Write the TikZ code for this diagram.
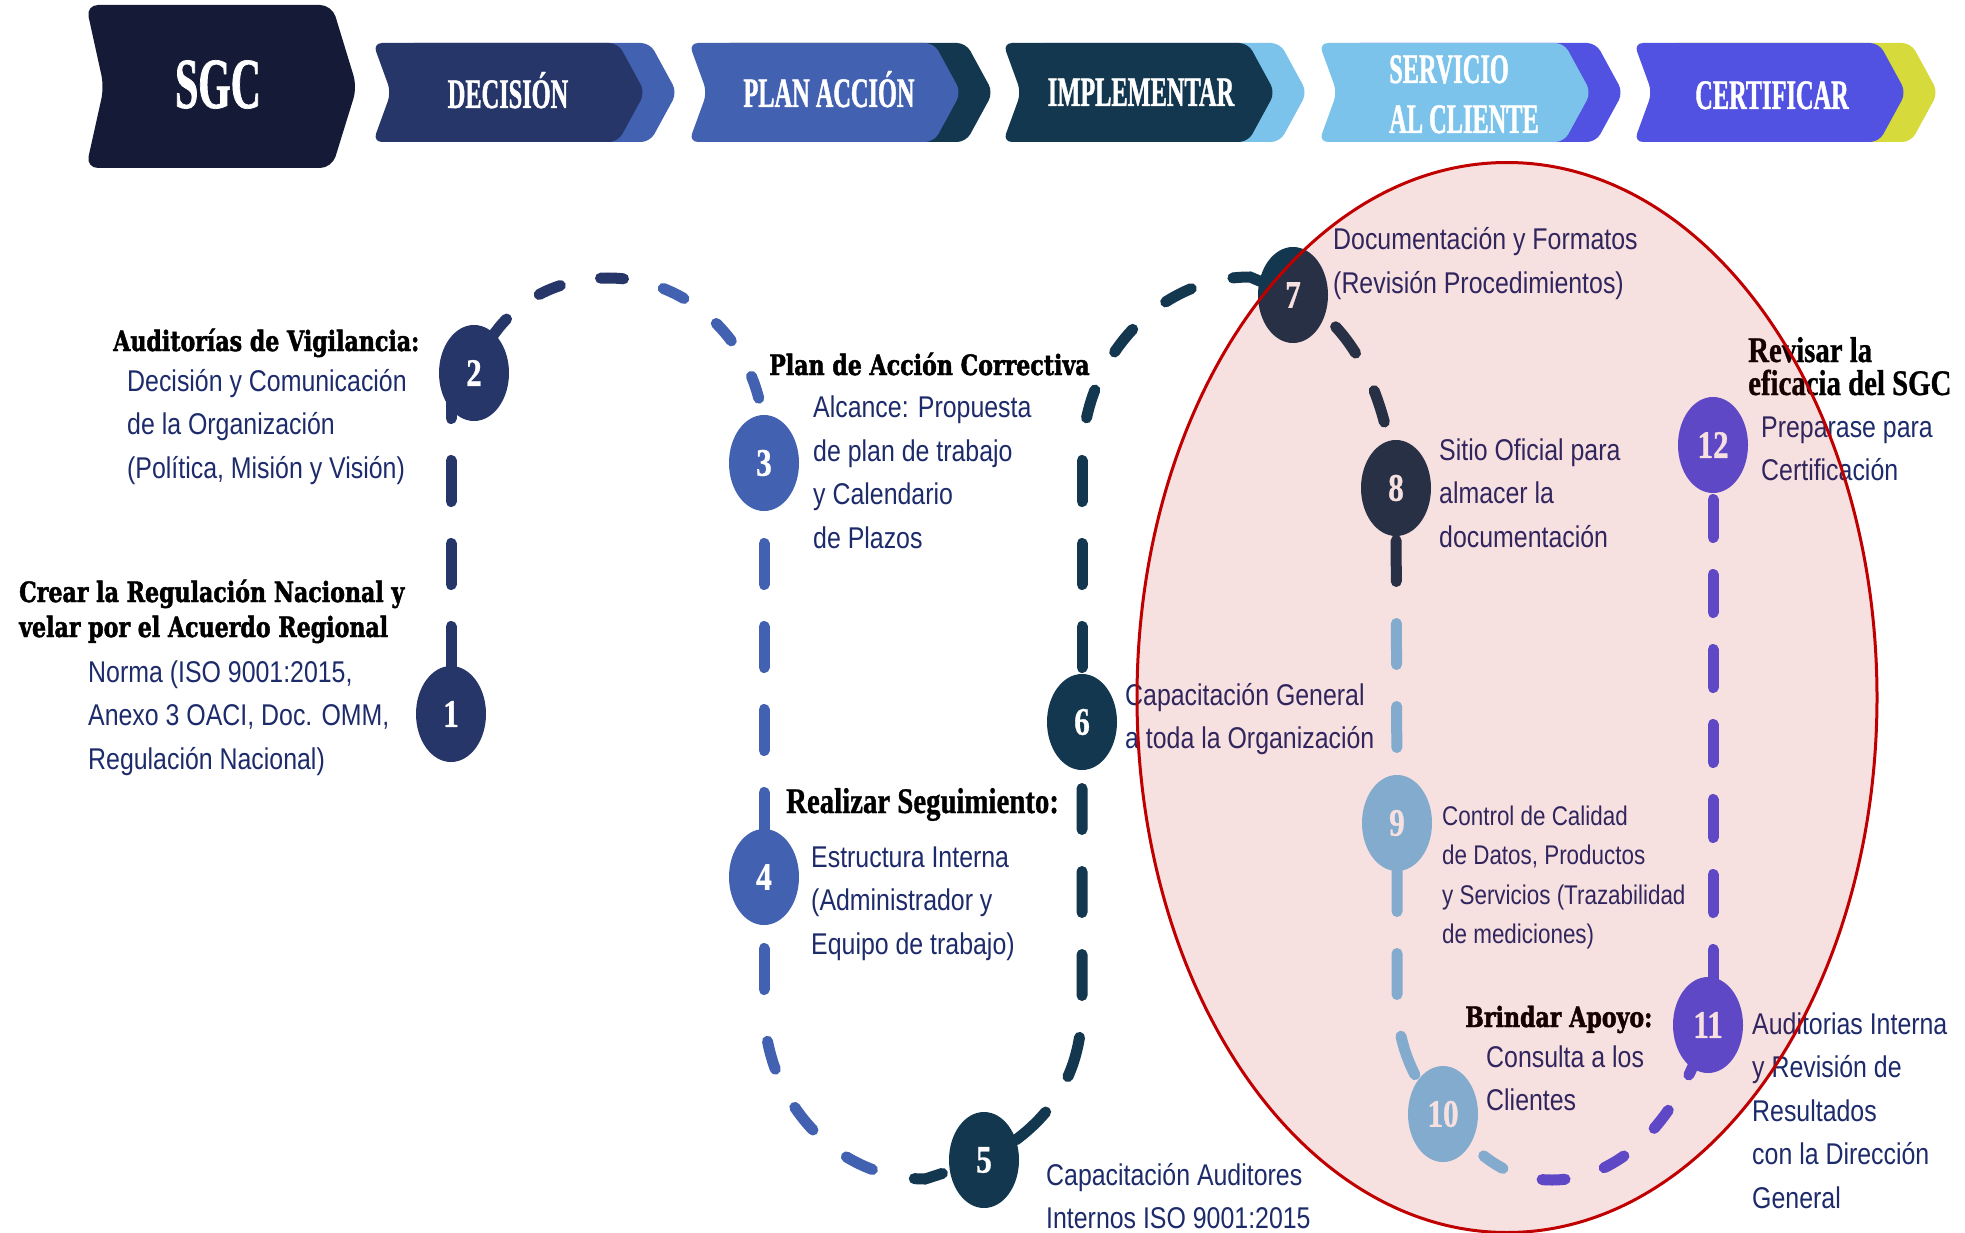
\documentclass[tikz,border=0pt]{standalone}
\usepackage{fontspec}
\setmainfont{Liberation Sans}
\newfontfamily\bodyf[FakeStretch=0.83]{Liberation Sans}
\newfontfamily\heavyf[FakeStretch=0.79,FakeBold=1.6]{DejaVu Serif Bold}
\newfontfamily\condf[FakeStretch=0.8,FakeBold=0.8]{Liberation Serif Bold}
\newfontfamily\headf[FakeStretch=0.58,FakeBold=1]{Liberation Serif Bold}
\newfontfamily\numf[FakeStretch=0.8,FakeBold=0.8]{Liberation Serif Bold}
\usetikzlibrary{shapes.geometric}
\pgfdeclarelayer{back}
\pgfsetlayers{back,main}
\definecolor{cSGC}{HTML}{151B37}
\definecolor{cNavy}{HTML}{263669}
\definecolor{cBlue}{HTML}{4261B0}
\definecolor{cTeal}{HTML}{13374F}
\definecolor{cSky}{HTML}{7BC3EA}
\definecolor{cViolet}{HTML}{5252E2}
\definecolor{cLime}{HTML}{D6DA3A}
\definecolor{cText}{HTML}{1D2B6B}
\definecolor{cRed}{HTML}{C00000}
\definecolor{cOverlay}{RGB}{192,0,0}
\newcommand{\chevbox}[2]{\fill[#2, rounded corners=9pt] (#1,43) -- ++(245,0) -- ++(27,49.5) -- ++(-27,49.5) -- ++(-245,0) -- ++(18,-49.5) -- cycle;}
\tikzset{
  num/.style={ellipse, minimum width=70pt, minimum height=96pt, inner sep=0pt, text=white, font=\numf\fontsize{39}{39}\selectfont},
  conn/.style={line width=11pt, line cap=round},
  vdash/.style={dash pattern=on 41pt off 42pt},
  cdash/.style={dash pattern=on 29pt off 43pt},
  adash/.style={dash pattern=on 23pt off 41pt},
  body/.style={anchor=base west, align=left, inner sep=0pt, text=cText, font=\bodyf\fontsize{30}{43.5}\selectfont},
  heavy/.style={anchor=base west, align=left, inner sep=0pt, text=black, font=\heavyf\fontsize{28}{35}\selectfont},
  cond/.style={anchor=base west, align=left, inner sep=0pt, text=black, font=\condf\fontsize{36}{33}\selectfont},
  headtxt/.style={anchor=base, inner sep=0pt, text=white, font=\headf\fontsize{42}{50}\selectfont}
}
\begin{document}
\begin{tikzpicture}[x=1pt, y=-1pt]
\useasboundingbox (0,0) rectangle (1965,1233);

% ---------- header chevrons ----------
\fill[cSGC, rounded corners=12pt] (86,5) -- (332,5) -- (357,87) -- (332,168) -- (86,168) -- (104,87) -- cycle;
\chevbox{405}{cBlue}
\chevbox{373}{cNavy}
\chevbox{721}{cTeal}
\chevbox{689}{cBlue}
\chevbox{1035}{cSky}
\chevbox{1003}{cTeal}
\chevbox{1351}{cViolet}
\chevbox{1319}{cSky}
\chevbox{1666}{cLime}
\chevbox{1634}{cViolet}

\node[headtxt, font=\headf\fontsize{72}{80}\selectfont] (hSGC) at (218,108) {SGC};
\node[headtxt] (hDec) at (508,108) {DECISIÓN};
\node[headtxt] (hPlan) at (829,107) {PLAN ACCIÓN};
\node[headtxt] (hImp) at (1141,106) {IMPLEMENTAR};
\node[headtxt, anchor=base west] (hServ) at (1389,83) {SERVICIO};
\node[headtxt, anchor=base west] (hCli) at (1389,133) {AL CLIENTE};
\node[headtxt] (hCert) at (1772,109) {CERTIFICAR};

% ---------- step circles ----------
\node[num, fill=cNavy] (n1) at (451,714) {1};
\node[num, fill=cNavy] (n2) at (474,373) {2};
\node[num, fill=cBlue] (n3) at (764,463) {3};
\node[num, fill=cBlue] (n4) at (764,877) {4};
\node[num, fill=cTeal] (n5) at (984,1160) {5};
\node[num, fill=cTeal] (n6) at (1082,722) {6};
\node[num, fill=cTeal] (n7) at (1293,295) {7};
\node[num, fill=cTeal] (n8) at (1396,488) {8};
\node[num, fill=cSky] (n9) at (1397,823) {9};
\node[num, fill=cSky] (n10) at (1443,1114) {10};
\node[num, fill=cViolet] (n11) at (1708,1025) {11};
\node[num, fill=cViolet] (n12) at (1713,445) {12};

% ---------- texts (anchor = baseline of the last line) ----------
\node[heavy] (t2h) at (113,351) {Auditorías de Vigilancia:};
\node[body] (t2) at (127,478) {Decisión y Comunicación\\de la Organización\\(Política, Misión y Visión)};
\node[heavy] (t1h) at (19,637) {Crear la Regulación Nacional y\\velar por el Acuerdo Regional};
\node[body] (t1) at (88,769) {Norma (ISO 9001:2015,\\Anexo 3 OACI, Doc. OMM,\\Regulación Nacional)};
\node[heavy] (t3h) at (769,375) {Plan de Acción Correctiva};
\node[body] (t3) at (813,548) {Alcance: Propuesta\\de plan de trabajo\\y Calendario\\de Plazos};
\node[cond] (t4h) at (786,813) {Realizar Seguimiento:};
\node[body] (t4) at (811,954) {Estructura Interna\\(Administrador y\\Equipo de trabajo)};
\node[body] (t5) at (1046,1228.5) {Capacitación Auditores\\Internos ISO 9001:2015};
\node[body] (t6) at (1125,748.5) {Capacitación General\\a toda la Organización};
\node[body] (t7) at (1333,293.5) {Documentación y Formatos\\(Revisión Procedimientos)};
\node[body] (t8) at (1439,547) {Sitio Oficial para\\almacer la\\documentación};
\node[body, font=\bodyf\fontsize{27}{39.5}\selectfont] (t9) at (1442,943.5) {Control de Calidad\\de Datos, Productos\\y Servicios (Trazabilidad\\de mediciones)};
\node[heavy] (t10h) at (1465,1027) {Brindar Apoyo:};
\node[body] (t10) at (1486,1110.5) {Consulta a los\\Clientes};
\node[body] (t11) at (1752,1208) {Auditorias Interna\\y Revisión de\\Resultados\\con la Dirección\\General};
\node[cond] (t12h) at (1748,395) {Revisar la\\eficacia del SGC};
\node[body] (t12) at (1761,480.5) {Preparase para\\Certificación};

% ---------- dashed connectors (behind circles) ----------
\begin{pgfonlayer}{back}
\fill[white] (0,0) rectangle (1965,1233);
% 1 -> 2
\draw[conn, cNavy, vdash, dash phase=36.5pt] (n1.center) -- (n1.center |- n2.center);
% 2 -> 3
\begin{scope}
\clip (0,0) rectangle (640,1233);
\draw[conn, cNavy, adash, dash phase=23.5pt] (n2.center) .. controls (500,300) and (560,278) .. (608,278) .. controls (694,278) and (764,350.6) .. (764,440) -- (n3.center);
\end{scope}
\begin{scope}
\clip (640,0) rectangle (1965,1233);
\draw[conn, cBlue, adash, dash phase=23.5pt] (n2.center) .. controls (500,300) and (560,278) .. (608,278) .. controls (694,278) and (764,350.6) .. (764,440) -- (n3.center);
\end{scope}
% 3 -> 4
\draw[conn, cBlue, vdash, dash phase=2.5pt] (n3.center) -- (n4.center);
% 4 -> 5
\coordinate (d45) at (764,1005);
\draw[conn, cBlue, vdash, dash phase=11.5pt] (n4.center) -- (d45);
\begin{scope}
\clip (0,0) rectangle (895,1233);
\draw[conn, cBlue, cdash, dash phase=35.5pt] (d45) .. controls (764,1101) and (836,1179) .. (925,1179) -- (n5.center);
\end{scope}
\begin{scope}
\clip (895,0) rectangle (1965,1233);
\draw[conn, cTeal, cdash, dash phase=35.5pt] (d45) .. controls (764,1101) and (836,1179) .. (925,1179) -- (n5.center);
\end{scope}
% 5 -> 6
\draw[conn, cTeal, vdash, dash phase=16.5pt] (n6.center) -- (1082,1005) .. controls (1082,1085) and (1040,1130) .. (n5.center);
% 6 -> 7
\coordinate (f67) at (1082,460);
\draw[conn, cTeal, vdash, dash phase=28.5pt] (n6.center) -- (f67);
\draw[conn, cTeal, cdash, dash phase=29.5pt] (f67) .. controls (1082,359) and (1158,277) .. (1250,277) -- (n7.center);
% 7 -> 8
\draw[conn, cTeal, dash pattern=on 33pt off 42pt, dash phase=21.5pt] (n7.center) .. controls (1345,320) and (1385,380) .. (n8.center);
% 8 -> 9
\begin{scope}
\clip (0,0) rectangle (1965,600);
\draw[conn, cTeal, vdash, dash phase=30.5pt] (n8.center) -- (n9.center);
\end{scope}
\begin{scope}
\clip (0,600) rectangle (1965,1233);
\draw[conn, cSky, vdash, dash phase=30.5pt] (n8.center) -- (n9.center);
\end{scope}
% 9 -> 10
\draw[conn, cSky, vdash, dash phase=35.5pt] (n9.center) -- (1397,1000) .. controls (1397,1045) and (1415,1085) .. (n10.center);
% 10 -> 11
\begin{scope}
\clip (0,0) rectangle (1522,1233);
\draw[conn, cSky, adash, dash phase=5.5pt] (n10.center) .. controls (1480,1160) and (1510,1180) .. (1552,1180) .. controls (1620,1180) and (1680,1120) .. (n11.center);
\end{scope}
\begin{scope}
\clip (1522,0) rectangle (1965,1233);
\draw[conn, cViolet, adash, dash phase=5.5pt] (n10.center) .. controls (1480,1160) and (1510,1180) .. (1552,1180) .. controls (1620,1180) and (1680,1120) .. (n11.center);
\end{scope}
% 11 -> 12
\draw[conn, cViolet, dash pattern=on 38pt off 37pt, dash phase=20.5pt] (n12.center) -- (n12.center |- n11.center);
\end{pgfonlayer}

% ---------- translucent highlight ellipse ----------
\fill[cOverlay, fill opacity=0.12] (1507,697.5) ellipse [x radius=370pt, y radius=535pt];
\draw[cRed, line width=3pt] (1507,697.5) ellipse [x radius=370pt, y radius=535pt];
\end{tikzpicture}
\end{document}
